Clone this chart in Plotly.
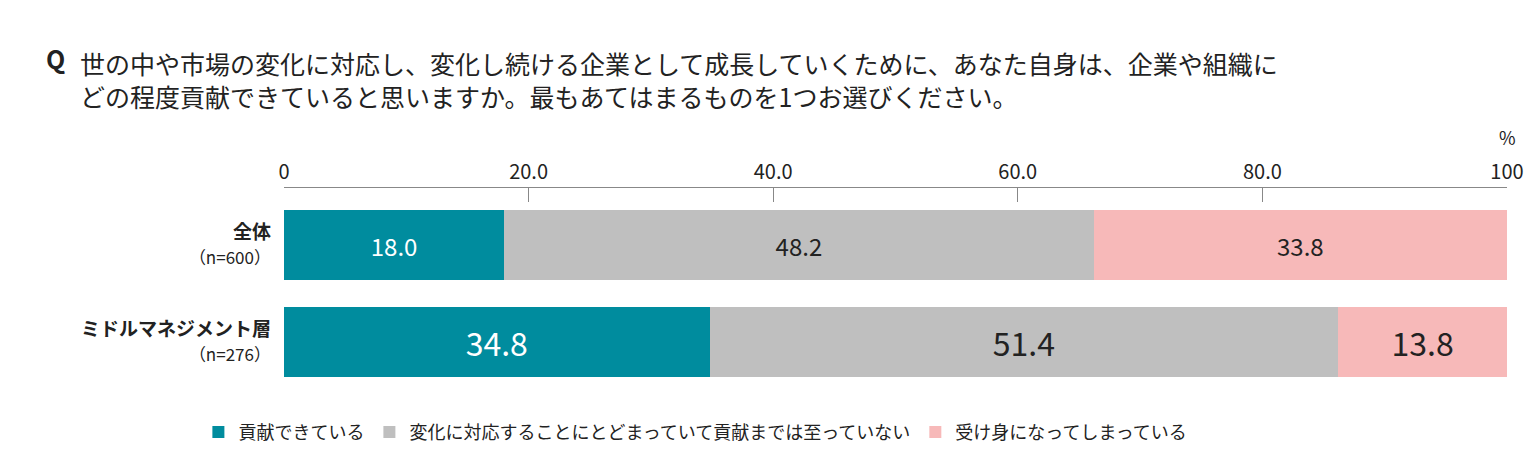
import plotly.graph_objects as go

categories = ["全体", "ミドルマネジメント層"]
sample_sizes = ["（n=600）", "（n=276）"]
series_names = ["貢献できている", "変化に対応することにとどまっていて貢献までは至っていない", "受け身になってしまっている"]
series_values = [
    [18.0, 34.8],
    [48.2, 51.4],
    [33.8, 13.8],
]
colors = ["#008c9e", "#bfbfbf", "#f7b9b9"]
text_colors = ["white", "#222222", "#222222"]
tick_vals = [0, 20, 40, 60, 80, 100]
tick_text = ["0", "20.0", "40.0", "60.0", "80.0", "100"]

font = "Noto Sans CJK JP"
fig = go.Figure()
for name, vals, c, tc in zip(series_names, series_values, colors, text_colors):
    fig.add_trace(go.Bar(
        y=[0, 1], x=vals, name=name, orientation="h", width=0.72,
        marker=dict(color=c, line=dict(width=0)),
        text=[f"{v:.1f}" for v in vals], textposition="inside", insidetextanchor="middle",
        textfont=dict(color=tc, size=[24, 32], family=font),
        hoverinfo="skip",
    ))

ylabels = [f"<b>{c}</b><br><span style='font-size:17px'>{n}</span>" for c, n in zip(categories, sample_sizes)]

fig.update_layout(
    barmode="stack", width=1540, height=476,
    plot_bgcolor="white", paper_bgcolor="white",
    margin=dict(l=276, r=41, t=180, b=76),
    font=dict(family=font, size=18, color="#222222"),
    xaxis=dict(side="top", range=[0, 100], tickvals=tick_vals, ticktext=tick_text,
               showgrid=False, showline=True, linecolor="#888888", linewidth=1,
               ticks="inside", ticklen=14, tickcolor="#888888",
               tickfont=dict(size=20), zeroline=False, automargin=False),
    yaxis=dict(range=[1.68, -0.59], tickvals=[0, 1], ticktext=ylabels,
               showgrid=False, zeroline=False, ticks="", ticklabelstandoff=12,
               tickfont=dict(size=19), automargin=False),
    legend=dict(orientation="h", x=-0.07, y=-0.11, yanchor="middle", xanchor="left",
                font=dict(size=18), traceorder="normal", itemwidth=30),
    showlegend=True,
)
fig.add_annotation(text="<b>Q</b>", x=36, y=50, xref="paper", yref="paper",
                   showarrow=False, font=dict(size=25), xanchor="left", yanchor="middle")
fig.add_annotation(text="世の中や市場の変化に対応し、変化し続ける企業として成長していくために、あなた自身は、企業や組織に<br>どの程度貢献できていると思いますか。最もあてはまるものを1つお選びください。",
                   x=70, y=72, xref="paper", yref="paper", showarrow=False, align="left",
                   font=dict(size=25), xanchor="left", yanchor="middle")
fig.add_annotation(text="%", x=100, y=1, xref="x", yref="paper", yshift=66,
                   showarrow=False, font=dict(size=18))
# convert pixel positions of title annotations to paper coords
pw, ph = 1540 - 276 - 41, 476 - 180 - 76
for a in fig.layout.annotations[:2]:
    a.x = (a.x - 276) / pw
    a.y = 1 + (180 - a.y) / ph
fig.write_html("out.html")
